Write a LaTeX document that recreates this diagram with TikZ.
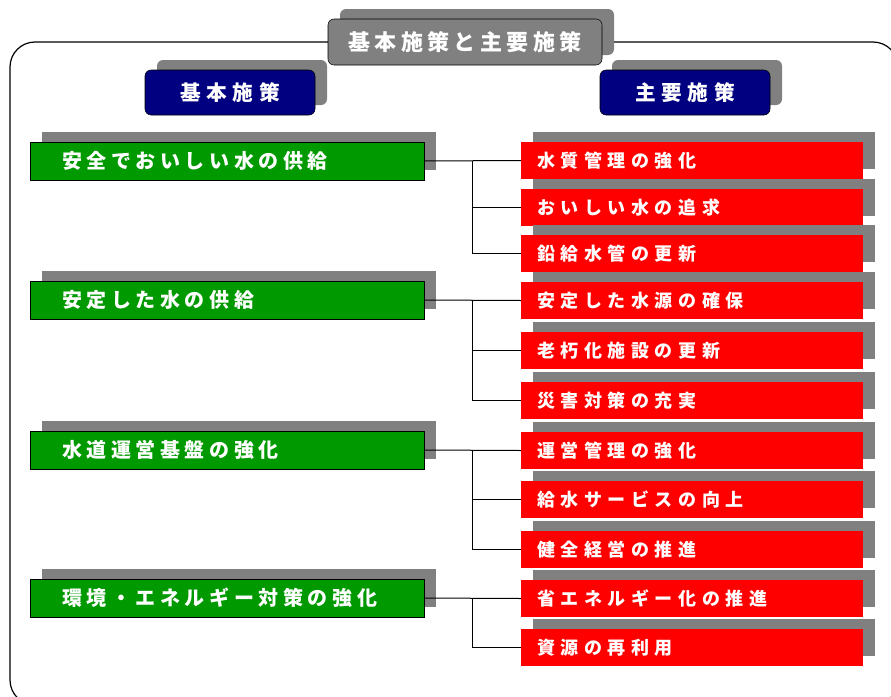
\documentclass[tikz,border=0pt]{standalone}
\usepackage{fontspec}
\newfontfamily\jpfont{Noto Sans CJK JP}
\usepackage{xcolor}
\definecolor{navyhead}{RGB}{0,0,128}
\definecolor{leafgreen}{RGB}{0,153,0}
\definecolor{boxred}{RGB}{255,0,0}
\usetikzlibrary{shadows}
\usetikzlibrary{calc}
\usetikzlibrary{positioning}
\begin{document}
\begin{tikzpicture}[x=0.75pt,y=-0.75pt,
every node/.style={text=white,inner sep=0pt,outer sep=0pt},
boxshadow/.style={drop shadow={shadow xshift=9pt,shadow yshift=7.5pt,fill=gray,opacity=1}},
titlebox/.style={boxshadow,draw=black,fill=gray,rounded corners=4.5pt,minimum width=205.5pt,minimum height=34.5pt,font={\jpfont\bfseries\fontsize{16.5}{20}\selectfont\addfontfeature{LetterSpace=20}}},
headbox/.style={boxshadow,draw=black,fill=navyhead,rounded corners=4.5pt,minimum width=127.5pt,minimum height=33.75pt,font={\jpfont\bfseries\fontsize{15.5}{19}\selectfont\addfontfeature{LetterSpace=27}}},
policybox/.style={boxshadow,draw=black,fill=leafgreen,anchor=north west,inner xsep=24pt,text width=247.5pt,align=left,minimum height=28.5pt,font={\jpfont\bfseries\fontsize{15}{18}\selectfont\addfontfeature{LetterSpace=23}}},
measurebox/.style={boxshadow,fill=boxred,anchor=north west,inner xsep=12pt,text width=232.5pt,align=left,minimum height=27.75pt,font={\jpfont\bfseries\fontsize{13.5}{16}\selectfont\addfontfeature{LetterSpace=31}}},
link/.style={draw=black,line width=0.75pt}]
\clip (0,0) rectangle (891,696);
\draw[line width=0.9pt,rounded corners=18.75pt] (10,42) rectangle (898,705);
\node[titlebox] (title) at (465,42) {基本施策と主要施策};
\node[headbox] (basic) at (230,92.5) {基本施策};
\node[headbox] (main) at (685,92.5) {主要施策};
\foreach \t/\lab [count=\i] in {142/安全でおいしい水の供給,281/安定した水の供給,431/水道運営基盤の強化,579/環境・エネルギー対策の強化}
  \node[policybox] (g\i) at (30,\t) {\lab};
\foreach \t/\lab [count=\i] in {142/水質管理の強化,189/おいしい水の追求,235/鉛給水管の更新,282/安定した水源の確保,332/老朽化施設の更新,382/災害対策の充実,432/運営管理の強化,481/給水サービスの向上,531/健全経営の推進,580/省エネルギー化の推進,629/資源の再利用}
  \node[measurebox] (r\i) at (521,\t) {\lab};
\foreach \g/\a/\b in {1/1/3,2/4/6,3/7/9,4/10/11}{
  \draw[link] (g\g.east) -- (r\a.west);
  \coordinate (bus\g) at ($(g\g.east)!.5!(r\a.west)$);
  \draw[link] (bus\g) |- (r\b.west);
}
\foreach \g/\m in {1/2,2/5,3/8}
  \draw[link] (bus\g |- r\m.west) -- (r\m.west);
\end{tikzpicture}
\end{document}
